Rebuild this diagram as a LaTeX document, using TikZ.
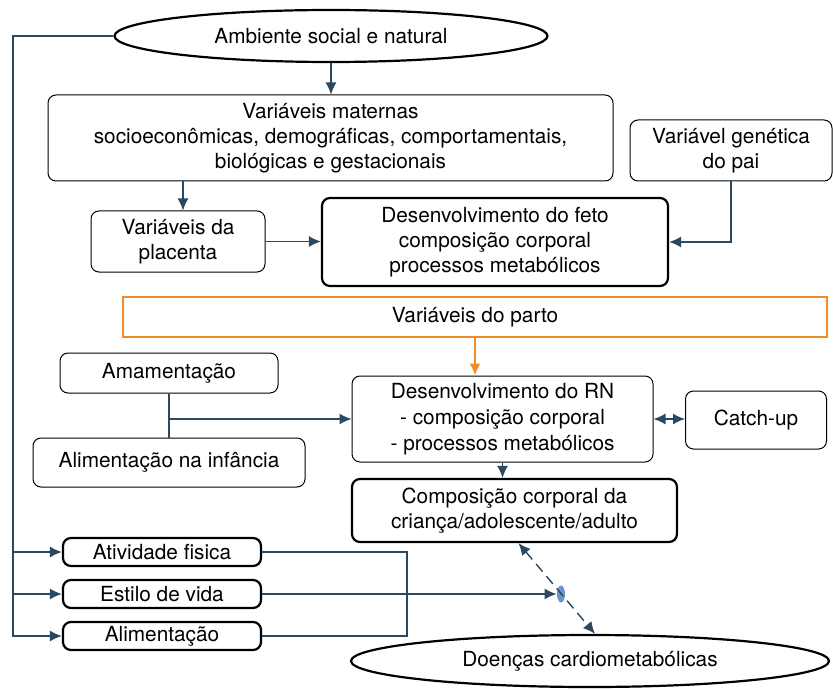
\documentclass[tikz,border=0pt]{standalone}
\usepackage{fontspec}
\setmainfont{TeX Gyre Heros}
\usetikzlibrary{shapes.geometric,arrows.meta}
\definecolor{linkblue}{RGB}{42,72,96}
\definecolor{partoorange}{RGB}{240,138,42}
\definecolor{dotblue}{RGB}{104,150,200}
\begin{document}
\begin{tikzpicture}[x=0.5pt,y=-0.5pt,>={Latex[length=6pt,width=5.5pt]},
    txt/.style={font=\fontsize{10.4}{12.5}\selectfont,align=center,inner sep=0pt},
    box/.style={txt,draw,rounded corners=4pt,line width=0.5pt},
    boldbox/.style={box,line width=1.1pt},
    oval/.style={txt,draw,ellipse,line width=1.1pt},
    conn/.style={draw=linkblue,line width=0.7pt,->},
    link/.style={draw=linkblue,line width=0.7pt}]
    \useasboundingbox(0,0)rectangle(833,689);
    % nodes
    \node[oval,minimum width=216.5pt,minimum height=26pt](amb) at (331,36){Ambiente social e natural};
    \node[box,minimum width=282.5pt,minimum height=43pt](mat) at (330.5,138)
        {Variáveis maternas\\socioeconômicas, demográficas, comportamentais,\\biológicas e gestacionais};
    \node[box,minimum width=101pt,minimum height=30.5pt](gen) at (731,150.5){Variável genética\\do pai};
    \node[box,minimum width=87pt,minimum height=30.5pt](plac) at (178,241.5){Variáveis da\\placenta};
    \node[boldbox,minimum width=173pt,minimum height=44pt](feto) at (495,242)
        {Desenvolvimento do feto\\composição corporal\\processos metabólicos};
    \node[txt,draw=partoorange,line width=1pt,minimum width=352pt,minimum height=20pt](parto) at (475,317){Variáveis do parto};
    \node[box,minimum width=109pt,minimum height=20pt](amam) at (169,373){Amamentação};
    \node[box,minimum width=136pt,minimum height=24.5pt](alinf) at (169,462.5){Alimentação na infância};
    \node[box,minimum width=150.5pt,minimum height=43pt,font=\fontsize{10.4}{13}\selectfont](rn) at (502.5,419)
        {Desenvolvimento do RN\\- composição corporal\\- processos metabólicos};
    \node[box,minimum width=70.5pt,minimum height=29pt](catch) at (756,420){Catch-up};
    \node[boldbox,minimum width=162.5pt,minimum height=31.5pt](comp) at (514.5,510.5)
        {Composição corporal da\\criança/adolescente/adulto};
    \node[boldbox,minimum width=99pt,minimum height=14pt](ativ) at (162,552){Atividade fisica};
    \node[boldbox,minimum width=99pt,minimum height=14pt](estilo) at (162,594){Estilo de vida};
    \node[boldbox,minimum width=99pt,minimum height=14pt](alim) at (162,636){Alimentação};
    \node[oval,minimum width=239pt,minimum height=26pt](doen) at (590,661){Doenças cardiometabólicas};
    \node[ellipse,fill=dotblue,inner sep=0pt,minimum width=4pt,minimum height=8.5pt](dot) at (561,594){};
    \coordinate(fb) at (13,0);
    \coordinate(vr) at (407,0);
    % connectors
    \draw[conn](amb.west)-|(fb|-alim.west)--(alim.west);
    \draw[conn](fb|-ativ.west)--(ativ.west);
    \draw[conn](fb|-estilo.west)--(estilo.west);
    \draw[conn](amb.south)--(amb.south|-mat.north);
    \draw[conn]([xshift=2.5pt]plac.north|-mat.south)--([xshift=2.5pt]plac.north);
    \draw[conn](plac.east)--(plac.east-|feto.west);
    \draw[conn](gen.south)|-(feto.east);
    \draw[conn,draw=partoorange,line width=1pt](parto.south)--(parto.south|-rn.north);
    \draw[link](amam.south)--(amam.south|-alinf.north);
    \draw[conn](amam.south|-rn.west)--(rn.west);
    \draw[conn,<->](rn.east)--(rn.east-|catch.west);
    \draw[conn](rn.south)--(rn.south|-comp.north);
    \draw[link](ativ.east)-|(vr|-alim.east)--(alim.east);
    \draw[conn](estilo.east)--(estilo.east-|dot.west);
    \draw[conn,<->,dash pattern=on 5pt off 3pt]([xshift=2pt]comp.south)--([xshift=2.5pt]doen.north);
\end{tikzpicture}
\end{document}
